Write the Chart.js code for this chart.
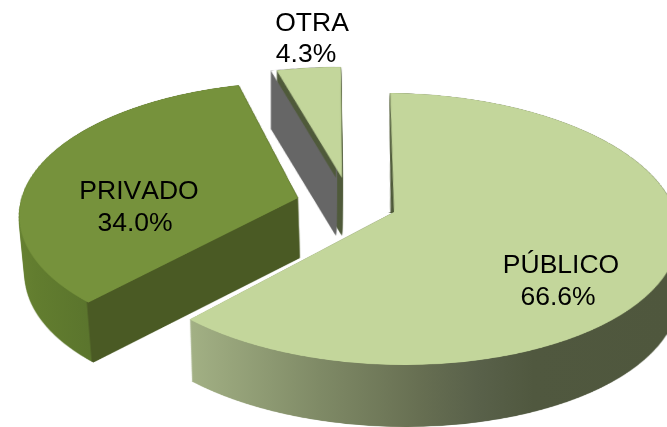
<!DOCTYPE html>
<html>
<head>
<meta charset="utf-8">
<style>html,body{margin:0;padding:0;background:#fff}canvas{display:block}</style>
<script src="https://cdn.jsdelivr.net/npm/chart.js@4"></script>
</head>
<body>
<canvas id="c" width="667" height="427"></canvas>
<script>
const categories = ["PÚBLICO", "PRIVADO", "OTRA"];
const printedPercent = ["66.6%", "34.0%", "4.3%"];
const sliceShares = [61.7, 34.0, 4.3];
const topColors = ["#c3d69b", "#76923c", "#c3d69b"];

const W = 667, H = 427;
const view = {xv: 320, y0: 212, B: 0.478, p: 0.125, R: 280};

function rowV(y) { const D = y - view.y0; return D / (view.B + D * view.p / view.R); }
function rowW(V) { return 1 - view.p * V / view.R; }
function newCanvas(w, h) { const c = document.createElement('canvas'); c.width = w; c.height = h; return c; }

const pieStyle = [
  {apex: [394, 212], depth: 62, k: 0.005, fix: 600, sx: 1.005, sy: 1, turn: 0,
   stops: [[0, '#a2b084'], [0.27, '#7f8a66'], [0.48, '#676f52'], [0.6, '#59614a'], [0.72, '#50583f'], [1, '#4f573d']],
   grad: [191, 0, 667, 0], sliver: true},
  {apex: [298, 198], depth: 60, k: 0.0143, fix: 438, sx: 1, sy: 1, turn: 0,
   stops: [[0, '#6a8534'], [0.1, '#627d2f'], [0.262, '#5b752d'], [0.268, '#4a5a24'], [1, '#4a5a24']],
   grad: [10.3, 341.5, 309, 317]},
  {apex: [342, 178], depth: 58, k: 0, fix: 0, sx: 0.99, sy: 0.99, turn: -0.7, gray: true,
   stops: [[0, '#4f5a3a'], [1, '#4f5a3a']], grad: [0, 0, 667, 0]}
];
const labelSpots = [[561, 273, 558, 305], [139, 199, 135, 231], [312, 31, 306, 62]];

const S = 2, F = 1200;
function projectSlice(el, style) {
  const flat = newCanvas(F * S, F * S), fc = flat.getContext('2d');
  const Va = rowV(style.apex[1]), Ua = (style.apex[0] - view.xv) * rowW(Va);
  fc.scale(S, S);
  fc.translate(F / 2 + Ua, F / 2 + Va);
  fc.rotate(style.turn * Math.PI / 180);
  fc.scale(style.sx, style.sy);
  fc.translate(-el.x, -el.y);
  el.draw(fc);
  const out = newCanvas(W, H), oc = out.getContext('2d');
  oc.imageSmoothingEnabled = true;
  oc.imageSmoothingQuality = 'high';
  for (let y = 0; y < H; y++) {
    const V1 = rowV(y), V2 = rowV(y + 1), w = rowW((V1 + V2) / 2);
    oc.drawImage(flat, (F / 2 - view.xv * w) * S, (F / 2 + V1) * S, W * w * S, (V2 - V1) * S, 0, y, W, 1);
  }
  return out;
}

function extrude(mask, style, dx, stops, grad, cutTop) {
  const layer = newCanvas(W, H), lc = layer.getContext('2d');
  for (let t = style.depth; t >= 0; t--) {
    const k = style.k * t / style.depth;
    lc.setTransform(1 - k, 0, 0, 1, style.fix * k + dx, t);
    lc.drawImage(mask, 0, 0);
  }
  lc.setTransform(1, 0, 0, 1, 0, 0);
  lc.globalCompositeOperation = 'source-in';
  const g = lc.createLinearGradient(grad[0], grad[1], grad[2], grad[3]);
  stops.forEach(s => g.addColorStop(s[0], s[1]));
  lc.fillStyle = g;
  lc.fillRect(0, 0, W, H);
  if (cutTop) {
    lc.globalCompositeOperation = 'destination-out';
    lc.drawImage(mask, dx, 0);
  }
  return layer;
}

const pie3d = {
  id: 'pie3d',
  beforeDatasetsDraw(chart) {
    const ctx = chart.ctx, arcs = chart.getDatasetMeta(0).data;
    [2, 1, 0].forEach(i => {
      const style = pieStyle[i];
      const mask = projectSlice(arcs[i], style);
      ctx.drawImage(extrude(mask, style, 0, style.stops, style.grad, false), 0, 0);
      if (style.gray) {
        ctx.drawImage(extrude(mask, style, -6, [[0, '#666666'], [1, '#666666']], style.grad, true), 0, 0);
      }
      if (style.sliver) {
        const a = newCanvas(W, H), ac = a.getContext('2d');
        ac.translate(390, 93); ac.rotate(0.03); ac.translate(-390, -93);
        ac.drawImage(mask, 0, 0);
        ac.setTransform(1, 0, 0, 1, 0, 0);
        ac.globalCompositeOperation = 'source-in';
        ac.fillStyle = '#4f5a3a'; ac.fillRect(0, 0, W, H);
        ctx.save(); ctx.beginPath(); ctx.rect(300, 0, 200, 213); ctx.clip();
        ctx.drawImage(a, 0, 0); ctx.restore();
      }
      ctx.drawImage(mask, 0, 0);
    });
    return false;
  },
  afterDraw(chart) {
    const ctx = chart.ctx;
    ctx.save();
    ctx.fillStyle = '#000';
    ctx.font = '26.5px "Liberation Sans", Arial, sans-serif';
    ctx.fontKerning = 'none';
    ctx.textAlign = 'center';
    ctx.textBaseline = 'alphabetic';
    categories.forEach((name, i) => {
      const s = labelSpots[i];
      ctx.fillText(name, s[0], s[1]);
      ctx.fillText(printedPercent[i], s[2], s[3]);
    });
    ctx.restore();
  }
};

new Chart(document.getElementById('c'), {
  type: 'pie',
  data: {labels: categories, datasets: [{data: sliceShares, backgroundColor: topColors, borderWidth: 0}]},
  options: {
    responsive: false, animation: false, rotation: 1, radius: 280,
    layout: {padding: 0},
    plugins: {legend: {display: false}, tooltip: {enabled: false}}
  },
  plugins: [pie3d]
});
</script>
</body>
</html>
